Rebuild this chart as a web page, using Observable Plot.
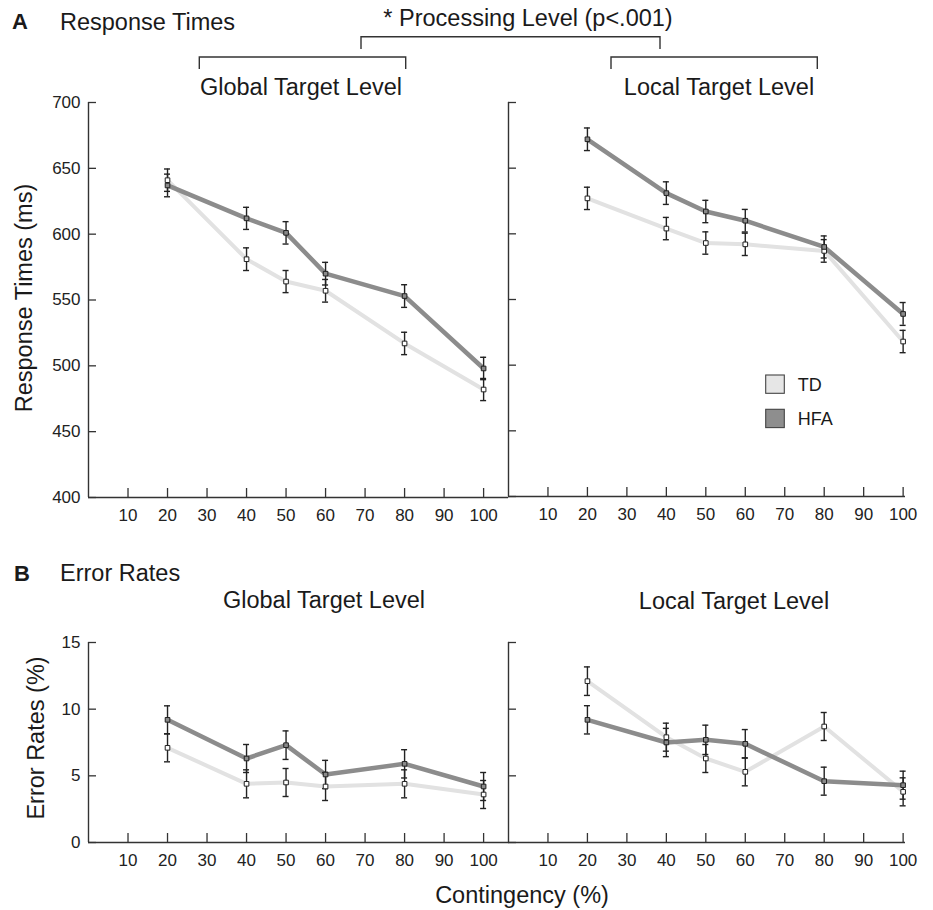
<!DOCTYPE html>
<html>
<head>
<meta charset="utf-8">
<script src="https://cdn.jsdelivr.net/npm/d3@7"></script>
<script src="https://cdn.jsdelivr.net/npm/@observablehq/plot@0.6"></script>
<style>
  html, body { margin: 0; padding: 0; background: #fff; }
  #wrap { position: relative; width: 933px; height: 910px; font-family: "Liberation Sans", Arial, Helvetica, sans-serif; }
  #wrap svg { position: absolute; left: 0; top: 0; }
</style>
</head>
<body>
<div id="wrap"></div>
<script>
// ---------- data ----------
const contingency = [20, 40, 50, 60, 80, 100];
const xTicks = [10, 20, 30, 40, 50, 60, 70, 80, 90, 100];
const rtTicks = [400, 450, 500, 550, 600, 650, 700];
const erTicks = [0, 5, 10, 15];
const groups = ["TD", "HFA"];

// Response times (ms)
const rtGlobalTD  = [641, 581, 564, 557, 517, 482];
const rtGlobalHFA = [637, 612, 601, 570, 553, 498];
const rtLocalTD   = [627, 604, 593, 592, 587, 518];
const rtLocalHFA  = [672, 631, 617, 610, 590, 539];
const rtGlobalTDse  = [8.5, 8.6, 8.4, 8.6, 8.5, 8.4];
const rtGlobalHFAse = [8.6, 8.4, 8.5, 8.6, 8.6, 8.5];
const rtLocalTDse   = [8.5, 8.5, 8.5, 8.5, 8.6, 8.5];
const rtLocalHFAse  = [8.6, 8.6, 8.5, 8.6, 8.4, 8.7];

// Error rates (%)
const erGlobalTD  = [7.1, 4.4, 4.5, 4.2, 4.4, 3.6];
const erGlobalHFA = [9.2, 6.3, 7.3, 5.1, 5.9, 4.2];
const erLocalTD   = [12.1, 7.9, 6.3, 5.3, 8.7, 3.8];
const erLocalHFA  = [9.2, 7.5, 7.7, 7.4, 4.6, 4.3];
const erGlobalTDse  = [1.05, 1.05, 1.05, 1.05, 1.05, 1.05];
const erGlobalHFAse = [1.05, 1.05, 1.07, 1.06, 1.06, 1.05];
const erLocalTDse   = [1.07, 1.05, 1.05, 1.05, 1.05, 1.05];
const erLocalHFAse  = [1.06, 1.06, 1.1, 1.07, 1.05, 1.05];

// ---------- styles ----------
const FONT = '"Liberation Sans", Arial, Helvetica, sans-serif';
const AX = "#333";
const colors = { TD: { line: "#e2e2e2", fill: "#ffffff", swatch: "#e6e6e6" },
                 HFA: { line: "#8c8c8c", fill: "#8a8a8a", swatch: "#8e8e8e" } };

function rows(x, y, se) { return x.map((v, i) => ({ x: v, y: y[i], se: se[i] })); }

function panel({ left, right, top, bottom, xmax, ydom, yticks, showLabels, td, hfa }) {
  const plotW = right - left, plotH = bottom - top;
  const pxPerUnit = plotW / xmax;
  const cap = 3 / pxPerUnit;
  const yTickLen = 8 / pxPerUnit;
  const marks = [
    Plot.ruleY([ydom[0]], { stroke: AX, strokeWidth: 1.4 }),
    Plot.ruleX([0], { stroke: AX, strokeWidth: 1.4 }),
    Plot.ruleY(yticks, { y: d => d, x1: 0, x2: yTickLen, stroke: AX, strokeWidth: 1.3 }),
    Plot.tickX(xTicks, { x: d => d, insetTop: plotH - 9, stroke: AX, strokeWidth: 1.3 }),
    Plot.axisX({ ticks: xTicks, tickSize: 0, tickPadding: 11, fontSize: 17, tickFormat: d => String(d), label: null }),
  ];
  if (showLabels) marks.push(Plot.axisY({ ticks: yticks, tickSize: 0, tickPadding: 8, fontSize: 17, tickFormat: d => String(d), label: null }));
  for (const [g, data, w] of [["TD", td, 4], ["HFA", hfa, 4.5]]) {
    marks.push(Plot.line(data, { x: "x", y: "y", stroke: colors[g].line, strokeWidth: w, strokeLinejoin: "round" }));
  }
  for (const data of [td, hfa]) {
    marks.push(Plot.ruleX(data, { x: "x", y1: d => d.y - d.se, y2: d => d.y + d.se, stroke: "#222", strokeWidth: 1.4 }));
    marks.push(Plot.ruleY(data, { y: d => d.y + d.se, x1: d => d.x - cap, x2: d => d.x + cap, stroke: "#222", strokeWidth: 1.4 }));
    marks.push(Plot.ruleY(data, { y: d => d.y - d.se, x1: d => d.x - cap, x2: d => d.x + cap, stroke: "#222", strokeWidth: 1.4 }));
  }
  for (const [g, data] of [["TD", td], ["HFA", hfa]]) {
    marks.push(Plot.dot(data, { x: "x", y: "y", symbol: "square", r: 2.6, fill: colors[g].fill, stroke: "#222", strokeWidth: 1 }));
  }
  return Plot.plot({
    width: 933, height: 910,
    marginLeft: left, marginRight: 933 - right, marginTop: top, marginBottom: 910 - bottom,
    x: { domain: [0, xmax], axis: null },
    y: { domain: ydom, axis: null },
    style: { fontFamily: FONT, color: "#222", background: "transparent", overflow: "visible" },
    marks
  });
}

const wrap = document.getElementById("wrap");
wrap.append(panel({ left: 88, right: 508, top: 102, bottom: 497, xmax: 106.3, ydom: [400, 700], yticks: rtTicks, showLabels: true,
  td: rows(contingency, rtGlobalTD, rtGlobalTDse), hfa: rows(contingency, rtGlobalHFA, rtGlobalHFAse) }));
wrap.append(panel({ left: 508, right: 905, top: 102, bottom: 496, xmax: 100.6, ydom: [400, 700], yticks: rtTicks, showLabels: false,
  td: rows(contingency, rtLocalTD, rtLocalTDse), hfa: rows(contingency, rtLocalHFA, rtLocalHFAse) }));
wrap.append(panel({ left: 88, right: 508, top: 642, bottom: 842, xmax: 106.3, ydom: [0, 15], yticks: erTicks, showLabels: true,
  td: rows(contingency, erGlobalTD, erGlobalTDse), hfa: rows(contingency, erGlobalHFA, erGlobalHFAse) }));
wrap.append(panel({ left: 508, right: 905, top: 642, bottom: 842, xmax: 100.6, ydom: [0, 15], yticks: erTicks, showLabels: false,
  td: rows(contingency, erLocalTD, erLocalTDse), hfa: rows(contingency, erLocalHFA, erLocalHFAse) }));

// ---------- annotations (titles, brackets, legend) ----------
const svg = d3.select(wrap).append("svg").attr("width", 933).attr("height", 910)
  .style("pointer-events", "none").attr("font-family", FONT).attr("fill", "#1a1a1a");
const T = (x, y, s, opts = {}) => svg.append("text").attr("x", x).attr("y", y)
  .attr("font-size", opts.size || 23.5).attr("font-weight", opts.bold ? "bold" : null)
  .attr("text-anchor", opts.anchor || "start")
  .attr("transform", opts.rotate ? `rotate(-90 ${x} ${y})` : null).text(s);

T(12, 29, "A", { bold: true, size: 22 });
T(60, 30, "Response Times");
T(528, 26, "* Processing Level (p<.001)", { anchor: "middle" });
T(301, 95, "Global Target Level", { anchor: "middle" });
T(719, 95, "Local Target Level", { anchor: "middle" });
T(32, 298, "Response Times (ms)", { anchor: "middle", rotate: true });

T(14, 581, "B", { bold: true, size: 22 });
T(60, 581, "Error Rates");
T(324, 608, "Global Target Level", { anchor: "middle" });
T(734, 609, "Local Target Level", { anchor: "middle" });
T(44, 738, "Error Rates (%)", { anchor: "middle", rotate: true });
T(522, 903, "Contingency (%)", { anchor: "middle" });

const br = (d) => svg.append("path").attr("d", d).attr("fill", "none").attr("stroke", AX).attr("stroke-width", 1.4);
br("M361,49V36.7H660V49");
br("M199.3,69V57H405.7V69");
br("M611,69V57H817.3V69");

// legend
groups.forEach((g, i) => {
  const y0 = 375 + i * 34.3;
  svg.append("rect").attr("x", 765.7).attr("y", y0).attr("width", 18.6).attr("height", 18.3)
    .attr("fill", colors[g].swatch).attr("stroke", "#444").attr("stroke-width", 1.1);
  T(797.7, y0 + 15.5, g, { size: 18 });
});
</script>
</body>
</html>
